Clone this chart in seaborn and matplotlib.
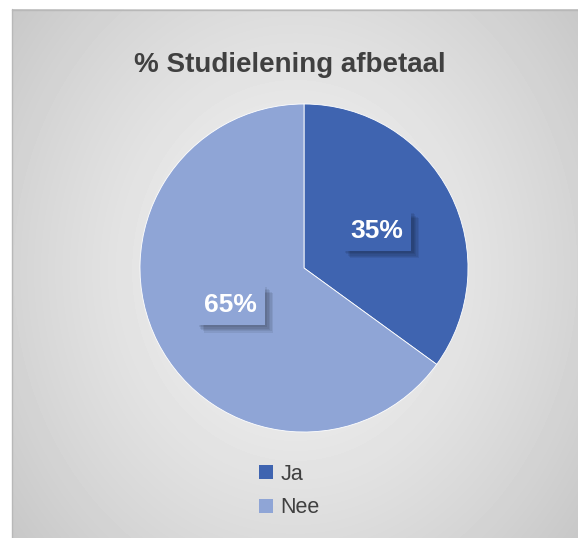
import numpy as np
import matplotlib
matplotlib.use("Agg")
import matplotlib.pyplot as plt
import matplotlib.patheffects as pe
from matplotlib.patches import Patch
import seaborn as sns

title = "% Studielening afbetaal"
categories = ["Ja", "Nee"]
shares = [35, 65]
colors = ["#3F64B0", "#8FA5D6"]
text_color = "#404040"

sns.set_theme(style="white")
plt.rcParams["font.family"] = ["Liberation Sans", "DejaVu Sans"]

W, H = 578, 538
fig = plt.figure(figsize=(W / 100, H / 100), dpi=100)
fig.patch.set_facecolor("white")

# radial grey background panel
bg = fig.add_axes([12 / W, 0, (W - 12) / W, (H - 9) / H])
yy, xx = np.mgrid[9:H, 12:W]
t = np.sqrt(((xx - 295) / 283.0) ** 2 + ((yy - 270) / 330.0) ** 2)
shade = (242 - 30 * t ** 1.4) / 255.0
bg.imshow(shade, cmap="gray", vmin=0, vmax=1, aspect="auto", interpolation="bilinear")
bg.set_axis_off()
fig.add_artist(plt.Line2D([12.5 / W, 12.5 / W], [0, (H - 9) / H], color="#b8b8b8", lw=1))
fig.add_artist(plt.Line2D([12 / W, 1], [(H - 9.5) / H, (H - 9.5) / H], color="#b8b8b8", lw=1))

fig.text(290 / W, 1 - 65 / H, title, ha="center", va="center",
         fontsize=20, fontweight="bold", color=text_color)

# pie
cx, cy, r = 304, 268, 164
ax = fig.add_axes([(cx - r) / W, (H - cy - r) / H, 2 * r / W, 2 * r / H])
wedges, _, autotexts = ax.pie(
    shares, colors=colors, startangle=90, counterclock=False,
    autopct="%d%%", pctdistance=0.5,
    wedgeprops=dict(edgecolor="white", linewidth=0.6),
)
ax.set_xlim(-1, 1)
ax.set_ylim(-1, 1)
ax.set_axis_off()

# soft shadow behind the label boxes
shadow = [pe.SimplePatchShadow(offset=(d, -d), shadow_rgbFace="black", alpha=0.07)
          for d in (1.5, 2.5, 3.5, 4.5, 5.5)]
for txt, col in zip(autotexts, colors):
    txt.set_color("white")
    txt.set_fontsize(19)
    txt.set_fontweight("bold")
    txt.set_bbox(dict(boxstyle="square,pad=0.3", facecolor=col, edgecolor="none"))
    txt.get_bbox_patch().set_path_effects(shadow + [pe.Normal()])

handles = [Patch(facecolor=c, edgecolor="none") for c in colors]
fig.legend(handles, categories, loc="center", bbox_to_anchor=(289 / W, 1 - 491 / H),
           frameon=False, fontsize=15.5, handlelength=0.65, handleheight=0.65,
           handletextpad=0.35, labelspacing=0.6, labelcolor=text_color)

fig.savefig("out.png", dpi=100)
